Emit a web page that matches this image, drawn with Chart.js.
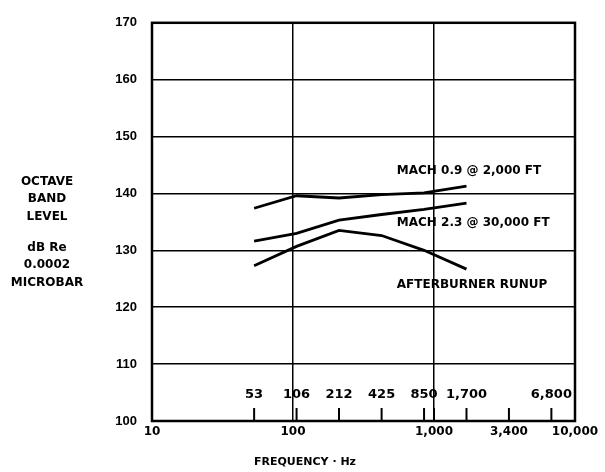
<!DOCTYPE html>
<html><head><meta charset="utf-8">
<script src="https://cdn.jsdelivr.net/npm/chart.js@4.4.1/dist/chart.umd.min.js"></script>
<style>html,body{margin:0;padding:0;background:#fff}#wrap{width:605px;height:472px}</style>
</head><body><div id="wrap"><canvas id="c" width="605" height="472"></canvas></div>
<script>
// ---- data ----
const bandFreqs = [53, 106, 212, 425, 850, 1700];
const mach09 = [137.4, 139.6, 139.2, 139.8, 140.1, 141.3];
const mach23 = [131.6, 133.0, 135.3, 136.3, 137.2, 138.3];
const afterburner = [127.3, 130.7, 133.5, 132.6, 130.0, 126.7];
const seriesNames = ['MACH 0.9 @ 2,000 FT', 'MACH 2.3 @ 30,000 FT', 'AFTERBURNER RUNUP'];
const xTickValues = [10, 100, 1000, 3400, 10000];
const bandTickValues = [53, 106, 212, 425, 850, 1700, 6800];
const bandTickLabels = ['53', '106', '212', '425', '850', '1,700', '6,800'];
const minorTickValues = [53, 106, 212, 425, 850, 1000, 1700, 3400, 6800];
const yTitleLines = ['OCTAVE', 'BAND', 'LEVEL', 'dB Re', '0.0002', 'MICROBAR'];
const xTitle = 'FREQUENCY · Hz';

const BOLD = 'bold';
const wide = '"DejaVu Sans", "Liberation Sans", Arial, sans-serif';
const narrow = '"Liberation Sans Narrow", "Liberation Sans", Arial, sans-serif';

function pts(vals) { return bandFreqs.map((f, i) => ({ x: f, y: vals[i] })); }

const annot = {
  id: 'annot',
  afterDraw(chart, args, opts) {
    const { ctx, chartArea: a, scales: { x, y } } = chart;
    ctx.save();
    ctx.strokeStyle = '#000';
    ctx.fillStyle = '#000';
    // inner tick marks on bottom axis
    ctx.lineWidth = 2;
    minorTickValues.forEach(v => {
      const px = x.getPixelForValue(v);
      ctx.beginPath(); ctx.moveTo(px, a.bottom); ctx.lineTo(px, a.bottom - 13); ctx.stroke();
    });
    // frame
    ctx.lineWidth = 2.5;
    ctx.strokeRect(a.left, a.top, a.right - a.left, a.bottom - a.top);
    // octave band labels
    ctx.font = 'bold 13px ' + wide;
    ctx.textAlign = 'center'; ctx.textBaseline = 'middle';
    bandTickValues.forEach((v, i) => {
      ctx.fillText(bandTickLabels[i], x.getPixelForValue(v), a.bottom - 26);
    });
    // series labels
    ctx.font = 'bold 12px ' + wide;
    ctx.textAlign = 'left';
    opts.seriesLabelPos.forEach((p, i) => {
      ctx.fillText(seriesNames[i], x.getPixelForValue(p[0]), y.getPixelForValue(p[1]));
    });
    // y title
    ctx.font = 'bold 12px ' + wide;
    ctx.textAlign = 'center';
    opts.yTitleY.forEach((py, i) => ctx.fillText(yTitleLines[i], 47, py));
    // x title
    ctx.font = 'bold 11px ' + wide;
    ctx.fillText(xTitle, 305, 462);
    ctx.restore();
  }
};

new Chart(document.getElementById('c'), {
  type: 'line',
  data: {
    datasets: [
      { label: seriesNames[0], data: pts(mach09) },
      { label: seriesNames[1], data: pts(mach23) },
      { label: seriesNames[2], data: pts(afterburner) }
    ].map(d => Object.assign(d, { borderColor: '#000', borderWidth: 2.8, pointRadius: 0, tension: 0, fill: false }))
  },
  options: {
    responsive: false,
    animation: false,
    layout: { padding: { left: 0, right: 30, top: 18, bottom: 0 } },
    plugins: {
      legend: { display: false },
      tooltip: { enabled: false },
      annot: {
        seriesLabelPos: [[545, 144.0], [545, 134.8], [545, 124.0]],
        yTitleY: [182, 199, 217, 248, 265, 283]
      }
    },
    scales: {
      x: {
        type: 'logarithmic', min: 10, max: 10000,
        afterBuildTicks: s => { s.ticks = xTickValues.map(v => ({ value: v })); },
        afterFit: s => { s.height = 51; },
        border: { display: false },
        grid: {
          drawTicks: false, lineWidth: 1.5,
          color: c => (c.tick && (c.tick.value === 100 || c.tick.value === 1000)) ? '#000' : 'rgba(0,0,0,0)'
        },
        ticks: {
          autoSkip: false, maxRotation: 0, minRotation: 0, padding: 4, color: '#000',
          font: { family: wide, weight: BOLD, size: 12 },
          callback: v => Number(v).toLocaleString('en-US')
        }
      },
      y: {
        min: 100, max: 170,
        afterFit: s => { s.width = 152; },
        border: { display: false },
        grid: { drawTicks: false, lineWidth: 1.5, color: '#000' },
        ticks: {
          stepSize: 10, padding: 15, color: '#000',
          font: { family: narrow, weight: BOLD, size: 13 }
        }
      }
    }
  },
  plugins: [annot]
});
</script>
</body></html>
